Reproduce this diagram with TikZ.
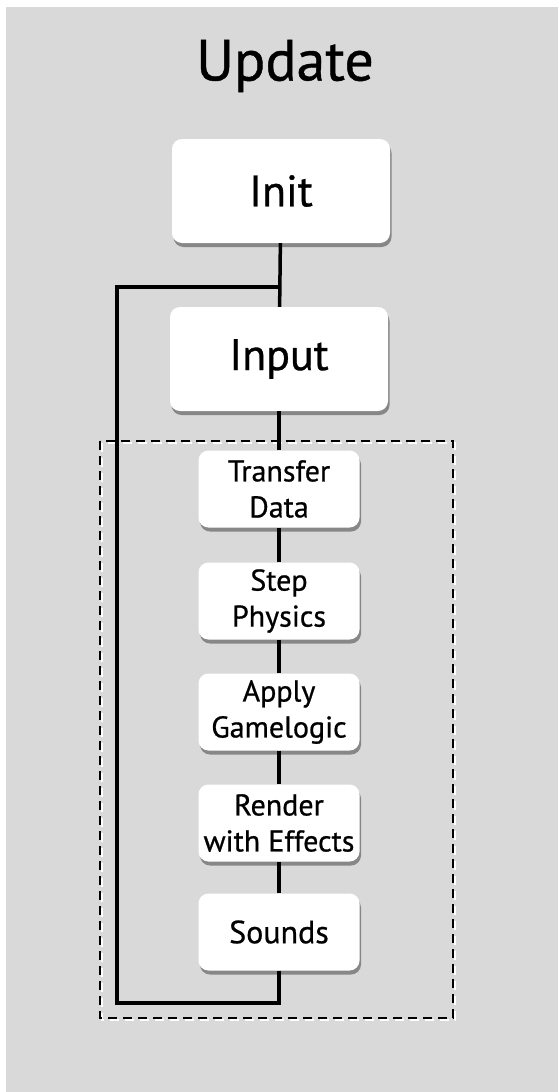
\documentclass[tikz,border=0pt]{standalone}
\usepackage{fontspec}
\setmainfont{PT Sans}[FakeBold=0.7]
\newfontfamily\medfont{PT Sans}[FakeBold=0.7]
\usetikzlibrary{shadows}
\definecolor{bggray}{HTML}{D9D9D9}
\begin{document}
\begin{tikzpicture}[x=1pt,y=-1pt,
  boxbase/.style={draw=none,fill=white,rounded corners=10pt,align=center,inner sep=0pt,
    drop shadow={shadow xshift=1.5pt,shadow yshift=-4pt,fill=black!55,opacity=0.8}},
  bigbox/.style={boxbase,minimum width=218pt,minimum height=104pt,font=\medfont\fontsize{44}{48}\selectfont},
  smallbox/.style={boxbase,minimum width=161pt,minimum height=77pt,font=\medfont\fontsize{30}{36}\selectfont},
  conn/.style={line width=3.5pt,black},
]
\useasboundingbox (0,0) rectangle (558,1092);
\fill[white] (0,0) rectangle (558,1092);
\fill[bggray] (6,7) rectangle (558,1092);
% dashed frame
\draw[white,line width=1.5pt,dash pattern=on 9pt off 6pt] (102,443) rectangle (455,1020);
\draw[black,line width=1.8pt,dash pattern=on 9pt off 6pt] (100,441) rectangle (453,1018);
\node[font=\medfont\fontsize{58}{60}\selectfont] (title) at (285,66) {Update};
\node[bigbox] (init) at (281,191) {Init};
\node[bigbox] (input) at (279,359) {Input};
\node[smallbox] (transfer) at (279,489) {Transfer\\Data};
\node[smallbox] (step) at (279,601) {Step\\Physics};
\node[smallbox] (apply) at (279,712) {Apply\\Gamelogic};
\node[smallbox] (render) at (279,823) {Render\\with Effects};
\node[smallbox,font=\medfont\fontsize{32}{36}\selectfont] (sounds) at (279,932) {Sounds};
\coordinate (lt) at (117,287);
\coordinate (lb) at (117,1003);
\draw[conn] (init) -- (input);
\draw[conn] (input) -- (transfer);
\draw[conn] (transfer) -- (step);
\draw[conn] (step) -- (apply);
\draw[conn] (apply) -- (render);
\draw[conn] (render) -- (sounds);
\draw[conn] (sounds.south) -- (sounds.south |- lb) -- (lb) -- (lt) -- (init.south |- lt);
\end{tikzpicture}
\end{document}
